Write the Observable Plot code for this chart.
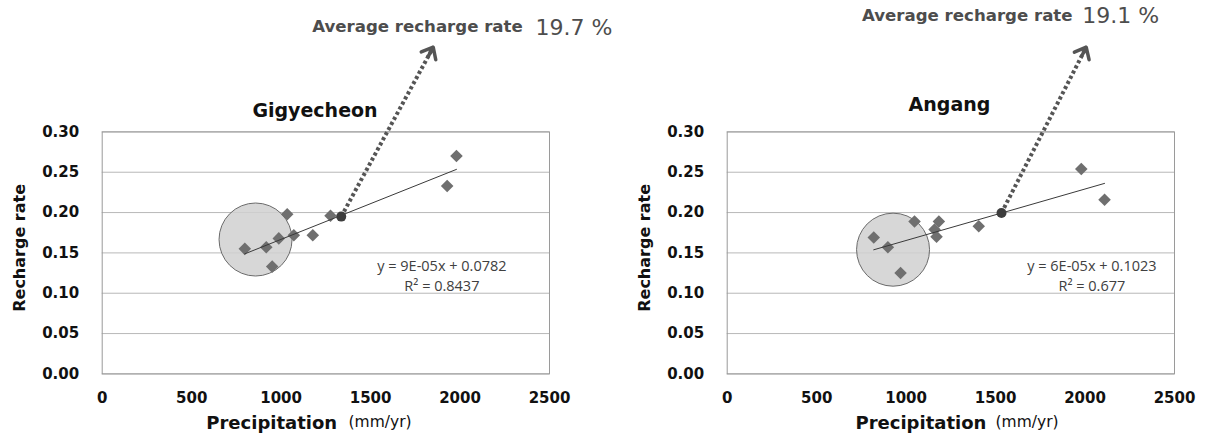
<!DOCTYPE html>
<html><head><meta charset="utf-8">
<script src="https://cdn.jsdelivr.net/npm/d3@7"></script>
<script src="https://cdn.jsdelivr.net/npm/@observablehq/plot@0.6"></script>
<style>body{margin:0;background:#fff}#wrap{display:flex;width:1206px;height:438px;overflow:hidden;background:#fff}#wrap svg{overflow:visible}</style>
</head><body><div id="wrap"></div>
<script>
// ---- data ----
const xTicks = [0, 500, 1000, 1500, 2000, 2500];
const yTicks = [0, 0.05, 0.10, 0.15, 0.20, 0.25, 0.30];
const siteNames = ["Gigyecheon", "Angang"];
const avgLabels = ["19.7 %", "19.1 %"];
const eqLabels = ["y = 9E-05x + 0.0782\nR² = 0.8437", "y = 6E-05x + 0.1023\nR² = 0.677"];

const gigPrecip = [797, 917, 987, 1071, 1034, 950, 1177, 1276, 1928, 1980];
const gigRate   = [0.155, 0.157, 0.168, 0.172, 0.198, 0.133, 0.172, 0.196, 0.233, 0.270];
const angPrecip = [819, 898, 969, 1047, 1183, 1159, 1170, 1406, 1979, 2109];
const angRate   = [0.169, 0.157, 0.125, 0.189, 0.189, 0.179, 0.170, 0.183, 0.254, 0.216];

// average points (precipitation, rate)
const gigMean = [1336, 0.195];
const angMean = [1533, 0.1995];
// shaded cluster circle centres
const gigCluster = [857, 0.1666];
const angCluster = [927, 0.154];
// fitted trend (slope, intercept) as drawn
const gigTrend = [8.85e-5, 0.0783];
const angTrend = [6.38e-5, 0.1016];
// arrow tips (data space, above the frame)
const gigTip = [1850, 0.405];
const angTip = [2006.5, 0.405];

function chart(c) {
  const pts = c.precip.map((x, i) => ({x, y: c.rate[i]}));
  const x0 = d3.min(c.precip), x1 = d3.max(c.precip);
  const trend = [x0, x1].map(x => ({x, y: c.trend[0] * x + c.trend[1]}));
  const mean = {x: c.mean[0], y: c.mean[1]};
  const tip = {x: c.tip[0], y: c.tip[1]};
  const f = 0.22;
  const head = [{x1: tip.x - f * (tip.x - mean.x), y1: tip.y - f * (tip.y - mean.y), x2: tip.x, y2: tip.y}];
  const link = [{x1: mean.x, y1: mean.y, x2: tip.x, y2: tip.y}];
  const T = d => d;
  return Plot.plot({
    width: 603, height: 438,
    marginLeft: c.ml, marginRight: c.mr, marginTop: 131.4, marginBottom: 64.6,
    x: {domain: [0, 2500]},
    y: {domain: [0, 0.30]},
    style: {fontFamily: "DejaVu Sans", fontSize: "15px", fontWeight: "bold", color: "#111", background: "transparent", overflow: "visible"},
    marks: [
      Plot.gridY(yTicks, {stroke: "#b8b8b8", strokeOpacity: 1}),
      Plot.frame({stroke: "#9a9a9a"}),
      Plot.axisY(yTicks, {tickSize: 0, tickPadding: 23, tickFormat: d3.format(".2f"), label: null, fill: "#111"}),
      Plot.axisX(xTicks, {tickSize: 0, tickPadding: 18, tickFormat: d => String(d), label: null, fill: "#111"}),
      Plot.dot([c.cluster], {x: d => d[0], y: d => d[1], r: 36.5, fill: "#d0d0d0", fillOpacity: 0.85, stroke: "#6b6b6b", strokeWidth: 1}),
      Plot.dot(pts, {x: "x", y: "y", symbol: "square", r: 5, rotate: 45, fill: "#6f6f6f"}),
      Plot.line(trend, {x: "x", y: "y", stroke: "#3a3a3a", strokeWidth: 1}),
      Plot.link(link, {x1: "x1", y1: "y1", x2: "x2", y2: "y2", stroke: "#555", strokeWidth: 4, strokeDasharray: "3.2 2.6"}),
      Plot.arrow(head, {x1: "x1", y1: "y1", x2: "x2", y2: "y2", stroke: "#555", strokeWidth: 3.5, headLength: 5.5, headAngle: 80, insetStart: 32}),
      Plot.dot([mean], {x: "x", y: "y", r: 5, fill: "#3d3d3d"}),
      // title
      Plot.text([c.name], {text: T, frameAnchor: "top-left", dx: c.titleDx, dy: c.titleDy, textAnchor: "middle", lineAnchor: "middle", fontSize: 19, fontWeight: "bold", fill: "#111"}),
      // average recharge annotation
      Plot.text(["Average recharge rate"], {text: T, frameAnchor: "top-left", dx: c.avgDx, dy: c.avgDy, textAnchor: "start", lineAnchor: "middle", fontSize: 16.6, fontWeight: "bold", fill: "#4d4d4d"}),
      Plot.text([c.avg], {text: T, frameAnchor: "top-left", dx: c.pctDx, dy: c.avgDy + 0.5, textAnchor: "start", lineAnchor: "middle", fontSize: 22, fontWeight: "normal", fill: "#4d4d4d"}),
      // equation
      Plot.text([c.eq], {text: T, frameAnchor: "top-left", dx: c.eqDx, dy: 142.6, textAnchor: "middle", lineAnchor: "middle", lineHeight: 1.4, fontSize: 14.5, fontFamily: "Open Sans", fontWeight: "normal", fill: "#404040"}),
      // axis titles
      Plot.text(["Recharge rate"], {text: T, frameAnchor: "left", rotate: -90, dx: -82.7, dy: -5, textAnchor: "middle", lineAnchor: "middle", fontSize: 16, fontWeight: "bold", fill: "#111"}),
      Plot.text(["Precipitation"], {text: T, frameAnchor: "bottom-left", dx: c.pDx, dy: 49, textAnchor: "start", lineAnchor: "middle", fontSize: 18, fontWeight: "bold", fill: "#111"}),
      Plot.text(["(mm/yr)"], {text: T, frameAnchor: "bottom-left", dx: c.uDx, dy: 48, textAnchor: "start", lineAnchor: "middle", fontSize: 15.5, fontWeight: "normal", fill: "#111"})
    ]
  });
}

const wrap = document.getElementById("wrap");
wrap.append(chart({
  name: siteNames[0], avg: avgLabels[0], eq: eqLabels[0],
  precip: gigPrecip, rate: gigRate, mean: gigMean, cluster: gigCluster, trend: gigTrend, tip: gigTip,
  ml: 101.7, mr: 54, titleDx: 212.8, titleDy: -21.4,
  avgDx: 210, avgDy: -104.9, pctDx: 433.3, eqDx: 339.7, pDx: 104.1, uDx: 246.3
}));
wrap.append(chart({
  name: siteNames[1], avg: avgLabels[1], eq: eqLabels[1],
  precip: angPrecip, rate: angRate, mean: angMean, cluster: angCluster, trend: angTrend, tip: angTip,
  ml: 123.7, mr: 32, titleDx: 222.3, titleDy: -27.4,
  avgDx: 134.8, avgDy: -116.4, pctDx: 355, eqDx: 364.7, pDx: 128.3, uDx: 268.3
}));
</script>
</body></html>
